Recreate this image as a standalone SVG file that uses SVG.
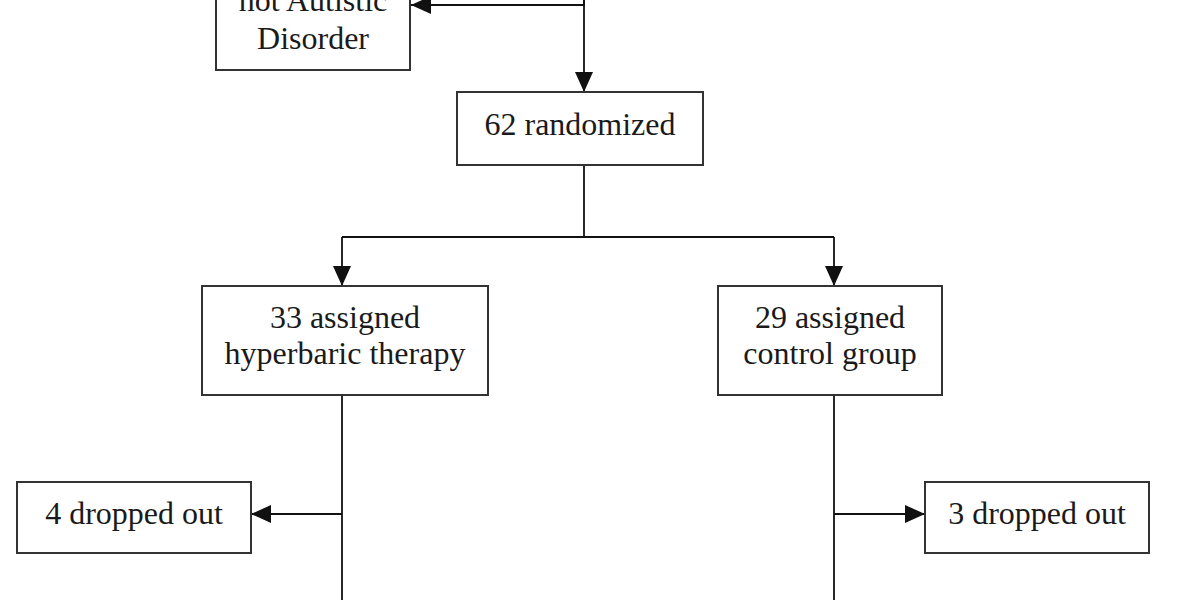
<svg xmlns="http://www.w3.org/2000/svg" width="1200" height="600" viewBox="0 0 1200 600">
<style>
.box{fill:#fff;stroke:#333;stroke-width:2}
.t{font-family:"Liberation Serif","Times New Roman",serif;font-size:32px;fill:#1a1a1a;text-anchor:middle}
.ln{stroke:#111;stroke-width:1.8;fill:none}
</style>
<defs>
<marker id="ah" viewBox="0 0 20 18" refX="20" refY="9" markerWidth="20" markerHeight="18" markerUnits="userSpaceOnUse" orient="auto">
<path d="M0,0 L20,9 L0,18 Z" fill="#111"/>
</marker>
</defs>
<rect width="1200" height="600" fill="#fff"/>
<g id="connectors">
<path class="ln" d="M584,0 V5 H411" marker-end="url(#ah)"/>
<path class="ln" d="M584,0 V92" marker-end="url(#ah)"/>
<path class="ln" d="M584,165 V237"/>
<path class="ln" d="M342,237 H834"/>
<path class="ln" d="M342,237 V286" marker-end="url(#ah)"/>
<path class="ln" d="M834,237 V286" marker-end="url(#ah)"/>
<path class="ln" d="M342,395 V600"/>
<path class="ln" d="M834,395 V600"/>
<path class="ln" d="M342,514 H251" marker-end="url(#ah)"/>
<path class="ln" d="M834,514 H925" marker-end="url(#ah)"/>
</g>
<g id="node-excluded">
<rect class="box" x="216" y="-40" width="194" height="110"/>
<text class="t" x="313" y="11">not Autistic</text>
<text class="t" x="313" y="49">Disorder</text>
</g>
<g id="node-randomized">
<rect class="box" x="457" y="92" width="246" height="73"/>
<text class="t" x="580" y="135">62 randomized</text>
</g>
<g id="node-hbot">
<rect class="box" x="202" y="286" width="286" height="109"/>
<text class="t" x="345" y="328">33 assigned</text>
<text class="t" x="345" y="364">hyperbaric therapy</text>
</g>
<g id="node-control">
<rect class="box" x="718" y="286" width="224" height="109"/>
<text class="t" x="830" y="328">29 assigned</text>
<text class="t" x="830" y="364">control group</text>
</g>
<g id="node-drop-left">
<rect class="box" x="17" y="482" width="234" height="71"/>
<text class="t" x="134" y="524">4 dropped out</text>
</g>
<g id="node-drop-right">
<rect class="box" x="925" y="482" width="224" height="71"/>
<text class="t" x="1037" y="524">3 dropped out</text>
</g>
</svg>
